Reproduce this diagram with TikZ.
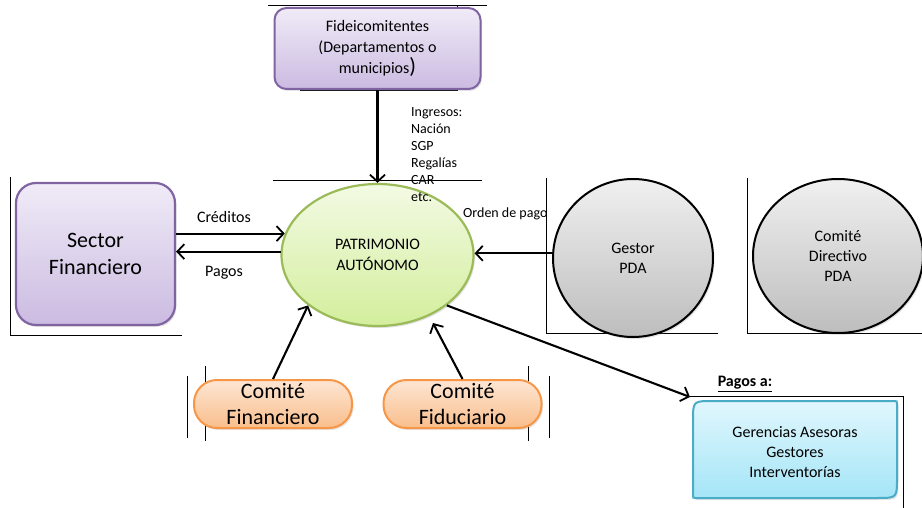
\documentclass[tikz,border=0pt]{standalone}
\usepackage{fontspec}
\setmainfont{Carlito}
\usetikzlibrary{arrows.meta,shapes.geometric,shadows,calc}
\definecolor{purB}{HTML}{8064A2}
\definecolor{purT}{HTML}{F0EBF7}
\definecolor{purD}{HTML}{CBBBE1}
\definecolor{grnB}{HTML}{9BBB59}
\definecolor{grnT}{HTML}{F3FAE4}
\definecolor{grnD}{HTML}{D3EE9C}
\definecolor{gryT}{HTML}{F0F0F0}
\definecolor{gryD}{HTML}{BDBDBD}
\definecolor{orB}{HTML}{F79646}
\definecolor{orT}{HTML}{FDE6D3}
\definecolor{orD}{HTML}{F9BE8C}
\definecolor{cyB}{HTML}{4BACC6}
\definecolor{cyT}{HTML}{E1F7FD}
\definecolor{cyD}{HTML}{A4E5F7}
\begin{document}
\begin{tikzpicture}[x=1pt,y=-1pt,
  frame/.style={line width=0.8pt},
  arr/.style={line width=2.1pt,-{Straight Barb[length=7pt,width=15pt,line width=1.8pt]}},
  shad/.style={drop shadow={shadow xshift=1.5pt,shadow yshift=-2pt,opacity=0.22}},
  lbl/.style={inner sep=0pt,align=left,font=\fontsize{14}{17}\selectfont},
  fidbox/.style={shad,rectangle,rounded corners=12pt,draw=purB,line width=2pt,
     top color=purT,bottom color=purD,minimum width=206pt,minimum height=81pt,
     inner sep=0pt,align=center,font=\fontsize{16}{21}\selectfont},
  secbox/.style={shad,rectangle,rounded corners=20pt,draw=purB,line width=2.2pt,
     top color=purT,bottom color=purD,minimum width=159pt,minimum height=142pt,
     inner sep=0pt,align=center,font=\fontsize{22}{27}\selectfont},
  patell/.style={shad,ellipse,draw=grnB,line width=2.2pt,top color=grnT,bottom color=grnD,
     minimum width=192pt,minimum height=142pt,inner sep=0pt,align=center,
     font=\fontsize{16}{21}\selectfont},
  gryell/.style={shad,ellipse,draw=black,line width=2pt,top color=gryT,bottom color=gryD,
     inner sep=0pt,align=center,font=\fontsize{16}{20}\selectfont},
  pill/.style={shad,rectangle,rounded corners=23pt,draw=orB,line width=2pt,
     top color=orT,bottom color=orD,minimum width=158pt,minimum height=48pt,
     inner sep=0pt,align=center,font=\fontsize{22}{26}\selectfont},
]
\useasboundingbox (0,0) rectangle (922,508);
% stray frame lines
\draw[frame] (268,5) -- (487,5);
\draw[frame] (457,5) -- (457,13);
\draw[frame] (300,90) -- (457,90) -- (457,82);
\draw[frame] (273,180) -- (482,180);
\draw[frame] (10,177) -- (10,335) -- (182,335);
\draw[frame] (546,178) -- (546,333) -- (718,333);
\draw[frame] (747,178) -- (747,333) -- (922,333);
\draw[frame] (187,376) -- (187,438);
\draw[frame] (205,366) -- (205,441);
\draw[frame] (528,366) -- (528,441);
\draw[frame] (549,376) -- (549,438);
\draw[frame] (690,396) -- (903,396) -- (903,508);

% nodes
\node[fidbox] (fid) at (377.5,48.5) {Fideicomitentes\\(Departamentos o\\municipios{\fontsize{22}{20}\selectfont)}};
\node[patell] (pat) at (377.5,255) {PATRIMONIO\\AUTÓNOMO};
\node[secbox] (sec) at (95.5,254) {Sector\\Financiero};
\node[gryell,minimum width=160pt,minimum height=158pt] (ges) at (633,258) {Gestor\\PDA};
\node[gryell,minimum width=170pt,minimum height=154pt] (cd) at (838,256) {Comité\\Directivo\\PDA};
\node[pill] (cf) at (273,404) {Comité\\Financiero};
\node[pill] (cfi) at (462.5,404) {Comité\\Fiduciario};

% cyan box with diagonal rounded corners
\path[shad,draw=cyB,line width=2pt,top color=cyT,bottom color=cyD]
  (693,421) .. controls (693,401) .. (713,401) -- (894,401) .. controls (897,401) .. (897,404)
  -- (897,478) .. controls (897,498) .. (877,498) -- (696,498) .. controls (693,498) .. (693,495) -- cycle;
\node[inner sep=0pt,align=center,font=\fontsize{16}{20}\selectfont] (ger) at (795,452)
  {Gerencias Asesoras\\Gestores\\Interventorías};
\coordinate (gerin) at (690,397);
\coordinate (fidtip) at (433,323);

% labels
\node[lbl,anchor=north west] (ing) at (411,107) {Ingresos:\\Nación\\SGP\\Regalías\\CAR\\etc.};
\node[lbl,anchor=west] (ord) at (463,214) {Orden de pago};
\node[inner sep=0pt,font=\fontsize{16}{19}\selectfont] (cre) at (224,217) {Créditos};
\node[inner sep=0pt,font=\fontsize{16}{19}\selectfont] (pag) at (224,273) {Pagos};
\node[inner sep=0pt,font=\bfseries\fontsize{16}{19}\selectfont] (pga) at (745,384) {\underline{Pagos a:}};

% connectors
\draw[arr] (fid) -- (pat);
\draw[arr] (sec.east |- pat.167) -- (pat.167);
\draw[arr] (pat.178) -- (sec.east |- pat.178);
\draw[arr] (ges.west |- pat.1) -- (pat.1);
\draw[arr] (cf.north) -- (pat.216);
\draw[arr] (cfi.north) -- (fidtip);
\draw[arr] (pat.324) -- (gerin);
\end{tikzpicture}
\end{document}
